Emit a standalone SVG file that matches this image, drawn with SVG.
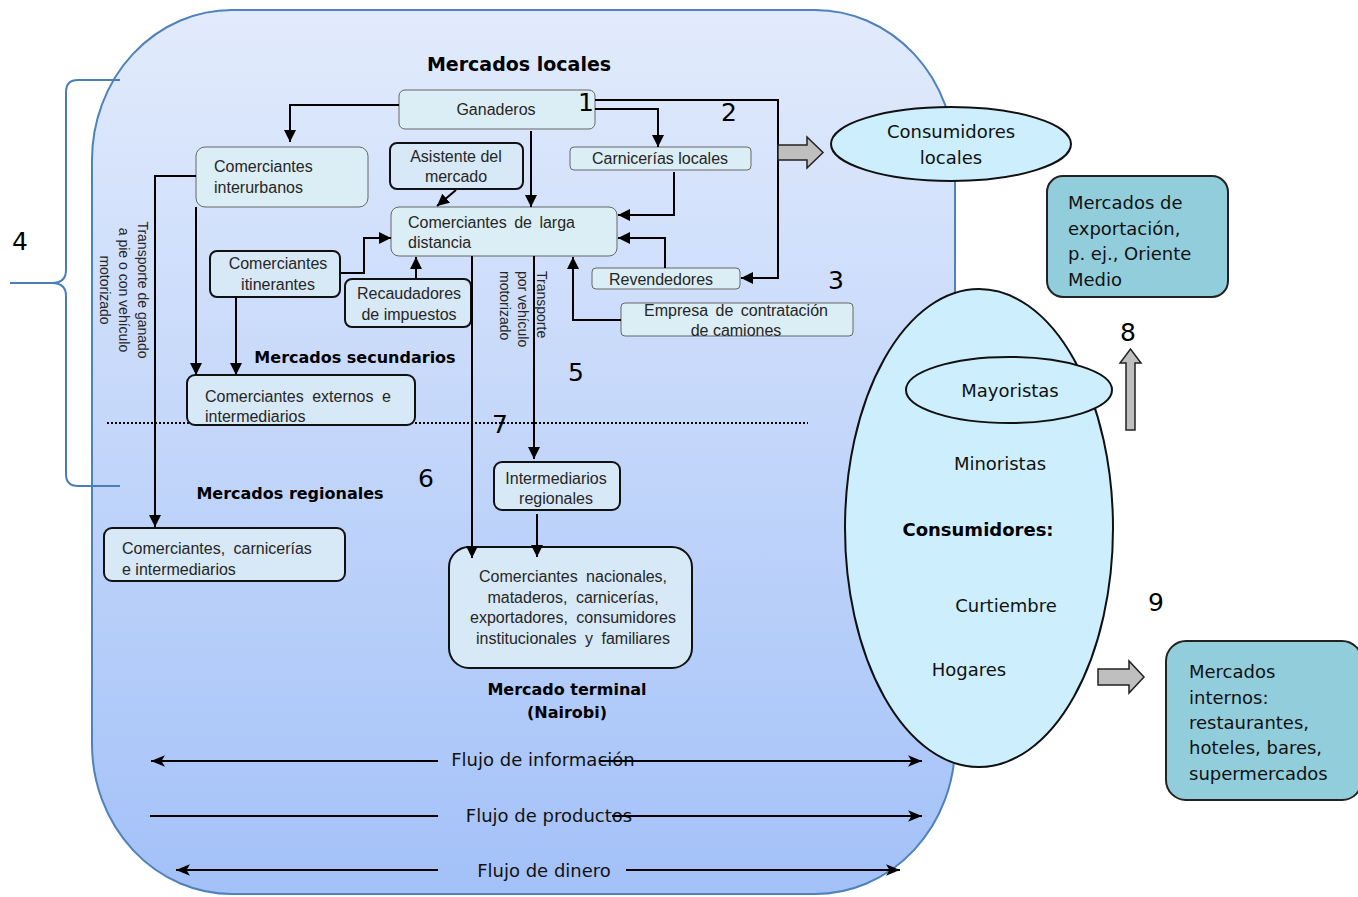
<svg xmlns="http://www.w3.org/2000/svg" width="1358" height="897" viewBox="0 0 1358 897">
<defs>
<linearGradient id="bg" x1="0" y1="0" x2="0" y2="1">
<stop offset="0" stop-color="#e2ebfc"/>
<stop offset="1" stop-color="#a3c1f8"/>
</linearGradient>
<marker id="ah" viewBox="0 0 10 10" refX="10" refY="5" markerWidth="12" markerHeight="12" markerUnits="userSpaceOnUse" orient="auto">
<path d="M0,0 L10,5 L0,10 z" fill="#000"/>
</marker>
<marker id="fa" viewBox="0 0 12 10" refX="12" refY="5" markerWidth="14" markerHeight="12" markerUnits="userSpaceOnUse" orient="auto">
<path d="M0,0 L12,5 L0,10 L3,5 z" fill="#000"/>
</marker>
<style>
.box{fill:#dbedf5;stroke:#666;stroke-width:1}
.tbox{fill:#d7e8f7;stroke:#111;stroke-width:2}
.sm{font-family:"Liberation Sans",Arial,sans-serif;font-size:16px;fill:#262626}
.smc{font-family:"Liberation Sans",Arial,sans-serif;font-size:16px;fill:#262626;text-anchor:middle}
.rot{font-family:"Liberation Sans",Arial,sans-serif;font-size:14px;fill:#262626}
.hd{font-family:"DejaVu Sans",Verdana,sans-serif;font-weight:bold;fill:#000}
.tx{font-family:"DejaVu Sans",Verdana,sans-serif;font-size:18px;fill:#111}
.num{font-family:"DejaVu Sans",Verdana,sans-serif;font-size:25px;fill:#000}
.con{fill:none;stroke:#000;stroke-width:2}
.flow{fill:none;stroke:#000;stroke-width:2}
.blk{fill:#bfbfbf;stroke:#222;stroke-width:1.5}
.teal{fill:#92cddc;stroke:#222;stroke-width:2}
</style>
</defs>
<rect width="1358" height="897" fill="#fff"/>

<g id="container">
<rect x="92" y="10" width="863" height="884" rx="140" ry="150" fill="url(#bg)" stroke="#4f81bd" stroke-width="2"/>
</g>

<g id="brace4">
<path d="M120,80 L78,80 Q66,80 66,92 L66,270 Q66,283 52,283 L10,283 M52,283 Q66,283 66,296 L66,474 Q66,486 78,486 L120,486" fill="none" stroke="#4a7ebb" stroke-width="2"/>
<text class="num" x="20" y="250" text-anchor="middle">4</text>
</g>

<g id="divider">
<line x1="107" y1="423" x2="808" y2="423" stroke="#000" stroke-width="2" stroke-dasharray="2,2"/>
</g>

<g id="flowlabels">
<text class="tx" x="543" y="766" text-anchor="middle">Flujo de información</text>
<text class="tx" x="549" y="822" text-anchor="middle">Flujo de productos</text>
<text class="tx" x="544" y="877" text-anchor="middle">Flujo de dinero</text>
</g>

<g id="ganaderos">
<rect class="box" x="399" y="90" width="196" height="39" rx="6"/>
<text class="smc" x="496" y="115">Ganaderos</text>
</g>
<g id="interurbanos">
<rect class="box" x="196" y="147" width="172" height="60" rx="9"/>
<text class="sm" x="214" y="172">Comerciantes</text>
<text class="sm" x="214" y="193">interurbanos</text>
</g>
<g id="asistente">
<rect class="tbox" x="390" y="143" width="133" height="46" rx="7"/>
<text class="smc" x="456" y="162">Asistente  del</text>
<text class="smc" x="456" y="182">mercado</text>
</g>
<g id="carnicerias">
<rect class="box" x="570" y="147" width="181" height="23" rx="4"/>
<text class="smc" x="660" y="164">Carnicerías locales</text>
</g>
<g id="larga">
<rect class="box" x="391" y="207" width="226" height="49" rx="8"/>
<text class="sm" x="408" y="228" word-spacing="3">Comerciantes de larga</text>
<text class="sm" x="408" y="248">distancia</text>
</g>
<g id="itinerantes">
<rect class="tbox" x="210" y="251" width="130" height="46" rx="7"/>
<text class="smc" x="278" y="269">Comerciantes</text>
<text class="smc" x="278" y="290">itinerantes</text>
</g>
<g id="recaudadores">
<rect class="tbox" x="345" y="279" width="126" height="48" rx="7"/>
<text class="smc" x="409" y="299">Recaudadores</text>
<text class="smc" x="409" y="320">de impuestos</text>
</g>
<g id="revendedores">
<rect class="box" x="592" y="268" width="148" height="21" rx="4"/>
<text class="smc" x="661" y="285">Revendedores</text>
</g>
<g id="empresa">
<rect class="box" x="621" y="303" width="232" height="33" rx="4"/>
<text class="smc" x="736" y="316" word-spacing="3">Empresa de contratación</text>
<text class="smc" x="736" y="336">de camiones</text>
</g>
<g id="externos">
<rect class="tbox" x="187" y="375" width="228" height="50" rx="8"/>
<text class="sm" x="205" y="402" word-spacing="4">Comerciantes externos e</text>
<text class="sm" x="205" y="422">intermediarios</text>
</g>
<g id="intermediarios">
<rect class="tbox" x="494" y="462" width="126" height="48" rx="8"/>
<text class="smc" x="556" y="484">Intermediarios</text>
<text class="smc" x="556" y="504">regionales</text>
</g>
<g id="regionales">
<rect class="tbox" x="104" y="528" width="241" height="53" rx="8"/>
<text class="sm" x="122" y="554" word-spacing="4">Comerciantes, carnicerías</text>
<text class="sm" x="122" y="575">e intermediarios</text>
</g>
<g id="terminal">
<rect class="tbox" x="449" y="547" width="243" height="121" rx="20"/>
<text class="smc" x="573" y="582" word-spacing="4">Comerciantes nacionales,</text>
<text class="smc" x="573" y="603" word-spacing="4">mataderos, carnicerías,</text>
<text class="smc" x="573" y="623" word-spacing="4">exportadores, consumidores</text>
<text class="smc" x="573" y="644" word-spacing="4">institucionales y familiares</text>
</g>

<g id="connectors">
<path class="con" d="M399,105 L290,105 L290,142" marker-end="url(#ah)"/>
<path class="con" d="M531,131 L531,207" marker-end="url(#ah)"/>
<path class="con" d="M595,100 L778,100 L778,278 L741,278" marker-end="url(#ah)"/>
<path class="con" d="M595,109 L658,109 L658,147" marker-end="url(#ah)"/>
<path class="con" d="M674,172 L674,215 L618,215" marker-end="url(#ah)"/>
<path class="con" d="M665,268 L665,238 L618,238" marker-end="url(#ah)"/>
<path class="con" d="M621,320 L573,320 L573,257" marker-end="url(#ah)"/>
<path class="con" d="M456,190 L437,206" marker-end="url(#ah)"/>
<path class="con" d="M416,279 L416,257" marker-end="url(#ah)"/>
<path class="con" d="M341,273 L364,273 L364,238 L391,238" marker-end="url(#ah)"/>
<path class="con" d="M236,297 L236,375" marker-end="url(#ah)"/>
<path class="con" d="M196,207 L196,375" marker-end="url(#ah)"/>
<path class="con" d="M196,176 L155,176 L155,527" marker-end="url(#ah)"/>
<path class="con" d="M472,256 L472,558" marker-end="url(#ah)"/>
<path class="con" d="M534,256 L534,459" marker-end="url(#ah)"/>
<path class="con" d="M537,514 L537,557" marker-end="url(#ah)"/>
<path class="blk" d="M778,145 L807,145 L807,137 L823,152.5 L807,168 L807,160 L778,160 z"/>
<path class="blk" d="M1126,430 L1126,363 L1120,363 L1130.5,349 L1141,363 L1135,363 L1135,430 z"/>
<path class="blk" d="M1098,669 L1129,669 L1129,661 L1144,677 L1129,693 L1129,685 L1098,685 z"/>
<path class="flow" d="M438,761 L151,761" marker-end="url(#fa)"/>
<path class="flow" d="M600,761 L922,761" marker-end="url(#fa)"/>
<path class="flow" d="M438,816 L150,816"/>
<path class="flow" d="M612,816 L922,816" marker-end="url(#fa)"/>
<path class="flow" d="M438,870 L176,870" marker-end="url(#fa)"/>
<path class="flow" d="M626,870 L900,870" marker-end="url(#fa)"/>
</g>

<g id="consumidores-locales">
<ellipse cx="951" cy="144" rx="120" ry="37" fill="#cdeefd" stroke="#111" stroke-width="2"/>
<text class="tx" x="951" y="138" text-anchor="middle" font-size="19">Consumidores</text>
<text class="tx" x="951" y="164" text-anchor="middle" font-size="19">locales</text>
</g>

<g id="exportacion">
<rect class="teal" x="1047" y="176" width="181" height="121" rx="16"/>
<text class="tx" x="1068" y="209" font-size="19">Mercados de</text>
<text class="tx" x="1068" y="235" font-size="19">exportación,</text>
<text class="tx" x="1068" y="260" font-size="19">p. ej., Oriente</text>
<text class="tx" x="1068" y="286" font-size="19">Medio</text>
</g>

<g id="consumidores">
<ellipse cx="979" cy="528" rx="134" ry="239" fill="#cdeefd" stroke="#111" stroke-width="2"/>
<text class="tx" x="1000" y="470" text-anchor="middle">Minoristas</text>
<text class="hd" x="978" y="536" font-size="18" text-anchor="middle">Consumidores:</text>
<text class="tx" x="1006" y="612" text-anchor="middle">Curtiembre</text>
<text class="tx" x="969" y="676" text-anchor="middle">Hogares</text>
</g>

<g id="mayoristas">
<ellipse cx="1009" cy="390" rx="103" ry="33" fill="#cdeefd" stroke="#111" stroke-width="2"/>
<text class="tx" x="1010" y="397" text-anchor="middle">Mayoristas</text>
</g>

<g id="internos">
<rect class="teal" x="1166" y="641" width="196" height="159" rx="20"/>
<text class="tx" x="1189" y="678" font-size="19">Mercados</text>
<text class="tx" x="1189" y="704" font-size="19">internos:</text>
<text class="tx" x="1189" y="729" font-size="19">restaurantes,</text>
<text class="tx" x="1189" y="754" font-size="19">hoteles, bares,</text>
<text class="tx" x="1189" y="780" font-size="19">supermercados</text>
</g>

<g id="labels">
<text class="hd" x="519" y="71" font-size="19" text-anchor="middle">Mercados locales</text>
<text class="hd" x="355" y="363" font-size="16" text-anchor="middle">Mercados secundarios</text>
<text class="hd" x="290" y="499" font-size="16" text-anchor="middle">Mercados regionales</text>
<text class="hd" x="567" y="695" font-size="16" text-anchor="middle">Mercado terminal</text>
<text class="hd" x="567" y="718" font-size="16" text-anchor="middle">(Nairobi)</text>
<text class="num" x="586" y="111" text-anchor="middle">1</text>
<text class="num" x="729" y="121" text-anchor="middle">2</text>
<text class="num" x="836" y="289" text-anchor="middle">3</text>
<text class="num" x="576" y="381" text-anchor="middle">5</text>
<text class="num" x="426" y="487" text-anchor="middle">6</text>
<text class="num" x="500" y="433" text-anchor="middle">7</text>
<text class="num" x="1128" y="341" text-anchor="middle">8</text>
<text class="num" x="1156" y="611" text-anchor="middle">9</text>
<text class="rot" transform="translate(138,290) rotate(90)" text-anchor="middle">Transporte de ganado</text>
<text class="rot" transform="translate(119,290) rotate(90)" text-anchor="middle">a pie o con vehículo</text>
<text class="rot" transform="translate(100,290) rotate(90)" text-anchor="middle">motorizado</text>
<text class="rot" transform="translate(537,271) rotate(90)">Transporte</text>
<text class="rot" transform="translate(518,271) rotate(90)">por vehículo</text>
<text class="rot" transform="translate(500,271) rotate(90)">motorizado</text>
</g>
</svg>
